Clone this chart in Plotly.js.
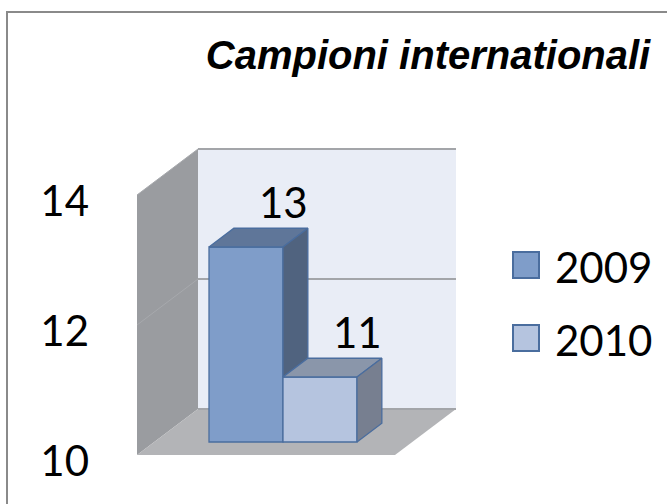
<!DOCTYPE html>
<html><head><meta charset="utf-8">
<script src="https://cdn.plot.ly/plotly-3.0.1.min.js"></script>
<style>html,body{margin:0;padding:0;background:#fff;} #chart{width:667px;height:504px;}</style>
</head><body><div id="chart"></div>
<script>
// ---- data ----
const seriesNames = ['2009', '2010'];
const seriesValues = [13, 11];
const yTickValues = [10, 12, 14];
const yTickLabels = ['10', '12', '14'];
const chartTitle = 'Campioni internationali';
const axisMin = 10, axisMax = 14;

// ---- styles ----
const frontColors = ['#7f9dc9', '#b5c4df'];
const topColors = ['#5f7699', '#8a96aa'];
const sideColors = ['#50637f', '#777f90'];
const edgeColor = '#4a6d9e';
const numFont = 'Lato, "Open Sans", sans-serif';

// ---- layout geometry (pixels) ----
const W = 667, H = 504, ML = 100;
const FRONT_LEFT = 137, FRONT_RIGHT = 395; // wall box on front plane (d=0)
const BASE_PX = 442;   // pixel row of axisMin on bar front plane
const K = 65;          // pixels per unit
const DX = 61, DY = 46; // full depth offset (right, up)
const D0 = 13 / 46, D1 = 0.69; // bar depth range
const BAR_W = 74, BAR_LEFT = 209; // bar front face on its plane

// point with x on front plane (d=0), value v, depth d -> axis coords
function P(x0, v, d) {
  return [x0 + DX * d, v + DY * (d - D0) / K];
}
function poly(pts) {
  return 'M' + pts.map(p => p[0] + ',' + p[1]).join('L') + 'Z';
}
const px2paperX = px => (px - ML) / (W - ML);
const px2paperY = py => (H - py) / H;

const traces = [];
const barX0 = BAR_LEFT - DX * D0; // bar left at d=0

// front faces as bars
seriesValues.forEach((v, i) => {
  traces.push({
    type: 'bar', name: seriesNames[i],
    x: [BAR_LEFT + BAR_W * (i + 0.5)], y: [v - axisMin], base: [axisMin], width: [BAR_W],
    marker: {color: frontColors[i], line: {color: edgeColor, width: 1.3}},
    showlegend: false, hoverinfo: 'skip'
  });
});
// top and visible side faces
seriesValues.forEach((v, i) => {
  const xl = barX0 + BAR_W * i, xr = xl + BAR_W;
  const top = [P(xl, v, D0), P(xr, v, D0), P(xr, v, D1), P(xl, v, D1)];
  traces.push({
    type: 'scatter', mode: 'lines', fill: 'toself', fillcolor: topColors[i],
    x: top.concat([top[0]]).map(p => p[0]), y: top.concat([top[0]]).map(p => p[1]),
    line: {color: edgeColor, width: 1.3}, showlegend: false, hoverinfo: 'skip'
  });
  const next = i + 1 < seriesValues.length ? seriesValues[i + 1] : axisMin;
  const low = Math.max(axisMin, Math.min(next, v));
  if (low < v) {
    const side = [P(xr, low, D0), P(xr, v, D0), P(xr, v, D1), P(xr, low, D1)];
    traces.push({
      type: 'scatter', mode: 'lines', fill: 'toself', fillcolor: sideColors[i],
      x: side.concat([side[0]]).map(p => p[0]), y: side.concat([side[0]]).map(p => p[1]),
      line: {color: edgeColor, width: 1.3}, showlegend: false, hoverinfo: 'skip'
    });
  }
});
// data labels
const labelPts = seriesValues.map((v, i) => P(barX0 + BAR_W * (i + 0.5) + DX * (D1 - D0) / 2, v, D1));
traces.push({
  type: 'scatter', mode: 'text',
  x: labelPts.map(p => p[0]), y: labelPts.map(p => p[1]),
  text: seriesValues.map(String), textposition: 'top center',
  textfont: {family: numFont, size: 42, color: '#000'},
  showlegend: false, hoverinfo: 'skip'
});

// walls
const shapes = [];
const wallLine = {width: 0};
shapes.push({type: 'path', xref: 'x', yref: 'y', layer: 'below', fillcolor: '#9a9ca0', line: wallLine,
  path: poly([P(FRONT_LEFT, axisMin, 0), P(FRONT_LEFT, axisMin, 1), P(FRONT_LEFT, axisMax, 1), P(FRONT_LEFT, axisMax, 0)])});
shapes.push({type: 'path', xref: 'x', yref: 'y', layer: 'below', fillcolor: '#e9edf6', line: wallLine,
  path: poly([P(FRONT_LEFT, axisMin, 1), P(FRONT_RIGHT, axisMin, 1), P(FRONT_RIGHT, axisMax, 1), P(FRONT_LEFT, axisMax, 1)])});
shapes.push({type: 'path', xref: 'x', yref: 'y', layer: 'below', fillcolor: '#b3b4b7', line: wallLine,
  path: poly([P(FRONT_LEFT, axisMin, 0), P(FRONT_RIGHT, axisMin, 0), P(FRONT_RIGHT, axisMin, 1), P(FRONT_LEFT, axisMin, 1)])});
// gridlines
yTickValues.forEach(t => {
  if (t === axisMin) return;
  const a = P(FRONT_LEFT, t, 1), b = P(FRONT_RIGHT, t, 1), c = P(FRONT_LEFT, t, 0);
  shapes.push({type: 'line', xref: 'x', yref: 'y', layer: 'below', x0: a[0], y0: a[1], x1: b[0], y1: b[1], line: {color: '#a3a5a9', width: 2}});
  shapes.push({type: 'line', xref: 'x', yref: 'y', layer: 'below', x0: c[0], y0: c[1], x1: a[0], y1: a[1], line: {color: '#a7a9ad', width: 1}});
});
{
  const a = P(FRONT_LEFT, axisMin, 1), b = P(FRONT_RIGHT, axisMin, 1);
  shapes.push({type: 'line', xref: 'x', yref: 'y', layer: 'below', x0: a[0], y0: a[1], x1: b[0], y1: b[1], line: {color: '#a3a5a9', width: 2}});
}
// outer frame
shapes.push({type: 'path', xref: 'paper', yref: 'paper', line: {color: '#8a8a8a', width: 2},
  path: 'M' + px2paperX(7) + ',' + px2paperY(H + 5) + 'L' + px2paperX(7) + ',' + px2paperY(12) + 'L' + px2paperX(W + 5) + ',' + px2paperY(12)});

// manual legend
const annotations = [];
seriesNames.forEach((n, i) => {
  const cy = 265 + 73 * i;
  shapes.push({type: 'rect', xref: 'paper', yref: 'paper',
    x0: px2paperX(513), x1: px2paperX(539), y0: px2paperY(cy - 13), y1: px2paperY(cy + 13),
    fillcolor: frontColors[i], line: {color: edgeColor, width: 2}});
  annotations.push({xref: 'paper', yref: 'paper', x: px2paperX(553), y: px2paperY(cy + 2),
    xanchor: 'left', yanchor: 'middle', showarrow: false, text: n,
    font: {family: numFont, size: 42, color: '#000'}});
});

const layout = {
  width: W, height: H,
  margin: {l: ML, r: 0, t: 0, b: 0},
  paper_bgcolor: '#fff', plot_bgcolor: 'rgba(0,0,0,0)',
  showlegend: false, barmode: 'overlay',
  title: {text: '<b><i>' + chartTitle + '</i></b>', font: {family: '"Liberation Sans", Arial, sans-serif', size: 40, color: '#000'},
    xref: 'container', yref: 'container', x: 428 / W, xanchor: 'center', y: 1 - 55 / H, yanchor: 'middle'},
  xaxis: {range: [ML, W], visible: false, fixedrange: true},
  yaxis: {range: [axisMin - (H - BASE_PX) / K, axisMin + BASE_PX / K], tickvals: yTickValues, ticktext: yTickLabels,
    showgrid: false, zeroline: false, showline: false, ticks: '', ticklabelshift: 19, ticklabelstandoff: 10,
    tickfont: {family: numFont, size: 42, color: '#000'}, fixedrange: true},
  shapes: shapes, annotations: annotations
};
Plotly.newPlot('chart', traces, layout, {displayModeBar: false, staticPlot: true});
</script></body></html>
